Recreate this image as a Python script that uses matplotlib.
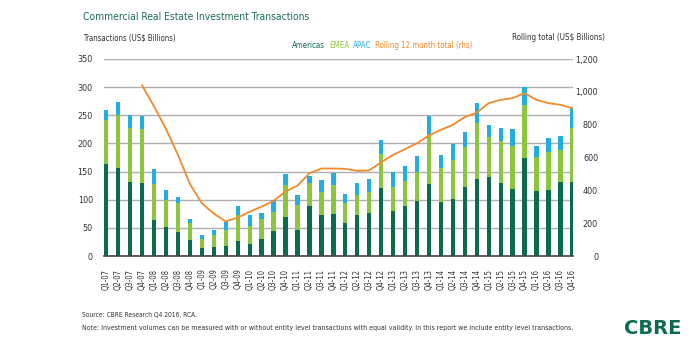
import matplotlib
matplotlib.use("Agg")
import matplotlib.pyplot as plt
import numpy as np

quarters = ["Q1-07","Q2-07","Q3-07","Q4-07","Q1-08","Q2-08","Q3-08","Q4-08",
            "Q1-09","Q2-09","Q3-09","Q4-09","Q1-10","Q2-10","Q3-10","Q4-10",
            "Q1-11","Q2-11","Q3-11","Q4-11","Q1-12","Q2-12","Q3-12","Q4-12",
            "Q1-13","Q2-13","Q3-13","Q4-13","Q1-14","Q2-14","Q3-14","Q4-14",
            "Q1-15","Q2-15","Q3-15","Q4-15","Q1-16","Q2-16","Q3-16","Q4-16"]

americas = [164, 157, 132, 130, 64, 51, 43, 28,
            14, 16, 17, 27, 22, 31, 45, 69,
            47, 88, 72, 74, 59, 72, 77, 120,
            80, 89, 98, 128, 96, 101, 122, 136,
            141, 129, 119, 175, 116, 118, 131, 131]
emea = [78, 94, 96, 95, 64, 49, 51, 30,
        16, 22, 30, 45, 32, 35, 34, 57,
        43, 41, 41, 53, 35, 36, 37, 61,
        42, 45, 52, 88, 61, 70, 71, 101,
        70, 76, 77, 94, 60, 66, 58, 97]
apac = [18, 23, 22, 23, 27, 17, 10, 8,
        7, 8, 13, 17, 19, 11, 20, 19,
        19, 13, 22, 20, 16, 22, 23, 25,
        27, 26, 27, 33, 23, 28, 28, 35,
        21, 23, 30, 31, 20, 25, 25, 36]
rolling = [None, None, None, 1039, 911, 773, 616, 439,
           321, 258, 210, 234, 270, 301, 336, 393,
           429, 504, 533, 533, 531, 519, 521, 571,
           616, 651, 687, 734, 769, 799, 846, 874,
           931, 951, 962, 992, 951, 931, 921, 900]

C_AM = "#0a6b4f"
C_EM = "#8cc63f"
C_AP = "#22aee0"
C_OR = "#f08a2c"
C_TXT = "#333333"

plt.rcParams['font.family'] = ['DejaVu Sans']
plt.rcParams['font.stretch'] = 'condensed'

fig = plt.figure(figsize=(7, 3.5), dpi=100)
ax = fig.add_axes([104/700, 1-256/350, (573-104)/700, (256-59)/350])
x = np.arange(len(quarters))
w = 0.36
am = np.array(americas, float)
em = np.array(emea, float)
ap = np.array(apac, float)
ax.bar(x, am, w, color=C_AM, zorder=3)
ax.bar(x, em, w, bottom=am, color=C_EM, zorder=3)
ax.bar(x, ap, w, bottom=am+em, color=C_AP, zorder=3)

ax.set_xlim(-0.19, 39.05)
ax.set_ylim(0, 350)
ax.set_yticks(range(0, 351, 50))
ax.yaxis.grid(True, color="#b0b0b0", linewidth=1.0, zorder=0)
ax.set_axisbelow(True)
for s in ["top", "right", "left"]:
    ax.spines[s].set_visible(False)
ax.spines["bottom"].set_color("#444444")
ax.spines["bottom"].set_linewidth(1.2)
ax.spines["bottom"].set_zorder(4)
ax.set_xticks(x)
ax.set_xticklabels(quarters, rotation=90, fontsize=5.5, color=C_TXT)
ax.tick_params(axis="x", length=0, pad=9)
ax.tick_params(axis="y", length=0, labelsize=6.5, labelcolor=C_TXT, pad=8)

ax2 = ax.twinx()
ax2.set_ylim(0, 1200)
ax2.set_yticks(range(0, 1201, 200))
ax2.set_yticklabels([f"{v:,}" for v in range(0, 1201, 200)])
for s in ["top", "right", "left", "bottom"]:
    ax2.spines[s].set_visible(False)
ax2.tick_params(axis="y", length=0, labelsize=6.5, labelcolor=C_TXT, pad=18)
for lab in ax2.get_yticklabels():
    lab.set_horizontalalignment("right")
rx = [i for i, v in enumerate(rolling) if v is not None]
ry = [v for v in rolling if v is not None]
ax2.plot(rx, ry, color=C_OR, linewidth=1.3, zorder=5)

fig.canvas.draw()
R = fig.canvas.get_renderer()


def fit_text(xp, yp, s, width, color, ha="left", weight="normal"):
    t = fig.text(xp/700, 1-yp/350, s, fontsize=10, color=color, va="center",
                 ha=ha, fontweight=weight)
    bb = t.get_window_extent(renderer=R)
    t.set_fontsize(10 * width / bb.width)
    return t


fit_text(83, 17, "Commercial Real Estate Investment Transactions", 225, "#1b6e5a")
fit_text(83, 38, "Transactions (US$ Billions)", 92, C_TXT)
fit_text(605, 38, "Rolling total (US$ Billions)", 94, C_TXT, ha="right")

items = [("Americas", C_AM), ("EMEA", C_EM), ("APAC", C_AP),
         ("Rolling 12 month total (rhs)", C_OR)]
ts = []
for label, col in items:
    t = fig.text(0, 1-45/350, label, fontsize=10, color=col,
                 va="center", ha="left")
    ts.append(t)
total = sum(t.get_window_extent(renderer=R).width for t in ts)
scale = (180 - 3*4) / total
xpos = 292
for t in ts:
    t.set_fontsize(10*scale)
    t.set_x(xpos/700)
    xpos += t.get_window_extent(renderer=R).width + 4

fit_text(82, 315, "Source: CBRE Research Q4 2016, RCA.", 115, C_TXT)
fit_text(82, 328,
         "Note: Investment volumes can be measured with or without entity level transactions with equal validity. In this report we include entity level transactions.",
         490, C_TXT)
fig.text(653/700, 1-328/350, "CBRE", fontsize=14, fontweight="bold",
         color="#0a6b4f", va="center", ha="center", stretch="normal")

fig.savefig("out.png", dpi=100)
